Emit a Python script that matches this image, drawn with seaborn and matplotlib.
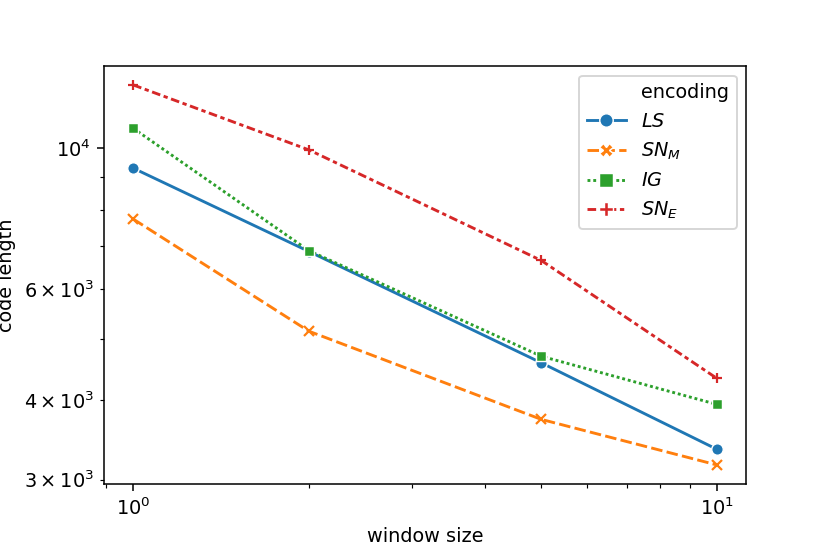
import matplotlib
matplotlib.use("Agg")
import matplotlib.pyplot as plt
from matplotlib.lines import Line2D
import seaborn as sns
import pandas as pd

window_size = [1, 2, 5, 10]
encodings = ["$LS$", "$SN_M$", "$IG$", "$SN_E$"]
ls_vals = [9300, 6870, 4585, 3348]
snm_vals = [7730, 5142, 3733, 3163]
ig_vals = [10750, 6890, 4696, 3941]
sne_vals = [12584, 9938, 6650, 4332]

rows = []
for enc, vals in zip(encodings, [ls_vals, snm_vals, ig_vals, sne_vals]):
    for w, v in zip(window_size, vals):
        rows.append({"window size": w, "code length": v, "encoding": enc})
df = pd.DataFrame(rows)

marker_map = dict(zip(encodings, ["o", "X", "s", "P"]))

DPI = 138.33
fig = plt.figure(figsize=(830 / DPI, 554 / DPI), dpi=DPI)
ax = fig.add_axes([0.1253, 0.1264, 0.899 - 0.1253, 0.881 - 0.1264])
sns.lineplot(data=df, x="window size", y="code length", hue="encoding",
             style="encoding", markers=marker_map, dashes=True, ax=ax)
ax.set_xscale("log")
ax.set_yscale("log")

# in the plot area, SN_M and SN_E markers appear as line-art x and +
data_lines = [l for l in ax.lines if len(l.get_xdata()) == len(window_size)]
if len(data_lines) >= 4:
    for idx, mk, ms in [(1, "x", 4.8), (3, "+", 5.6)]:
        ln = data_lines[idx]
        ln.set_marker(mk)
        ln.set_markeredgecolor(ln.get_color())
        ln.set_markeredgewidth(1.15)
        ln.set_markersize(ms)
    data_lines[2].set_markersize(5.6)

handles, labels = ax.get_legend_handles_labels()
for h in handles:
    try:
        h.set_markersize(7)
    except Exception:
        pass
blank = Line2D([], [], linestyle="none", marker=None)
ax.legend([blank] + handles, ["encoding"] + labels, loc="upper right")
fig.savefig("out.png", dpi=DPI)
